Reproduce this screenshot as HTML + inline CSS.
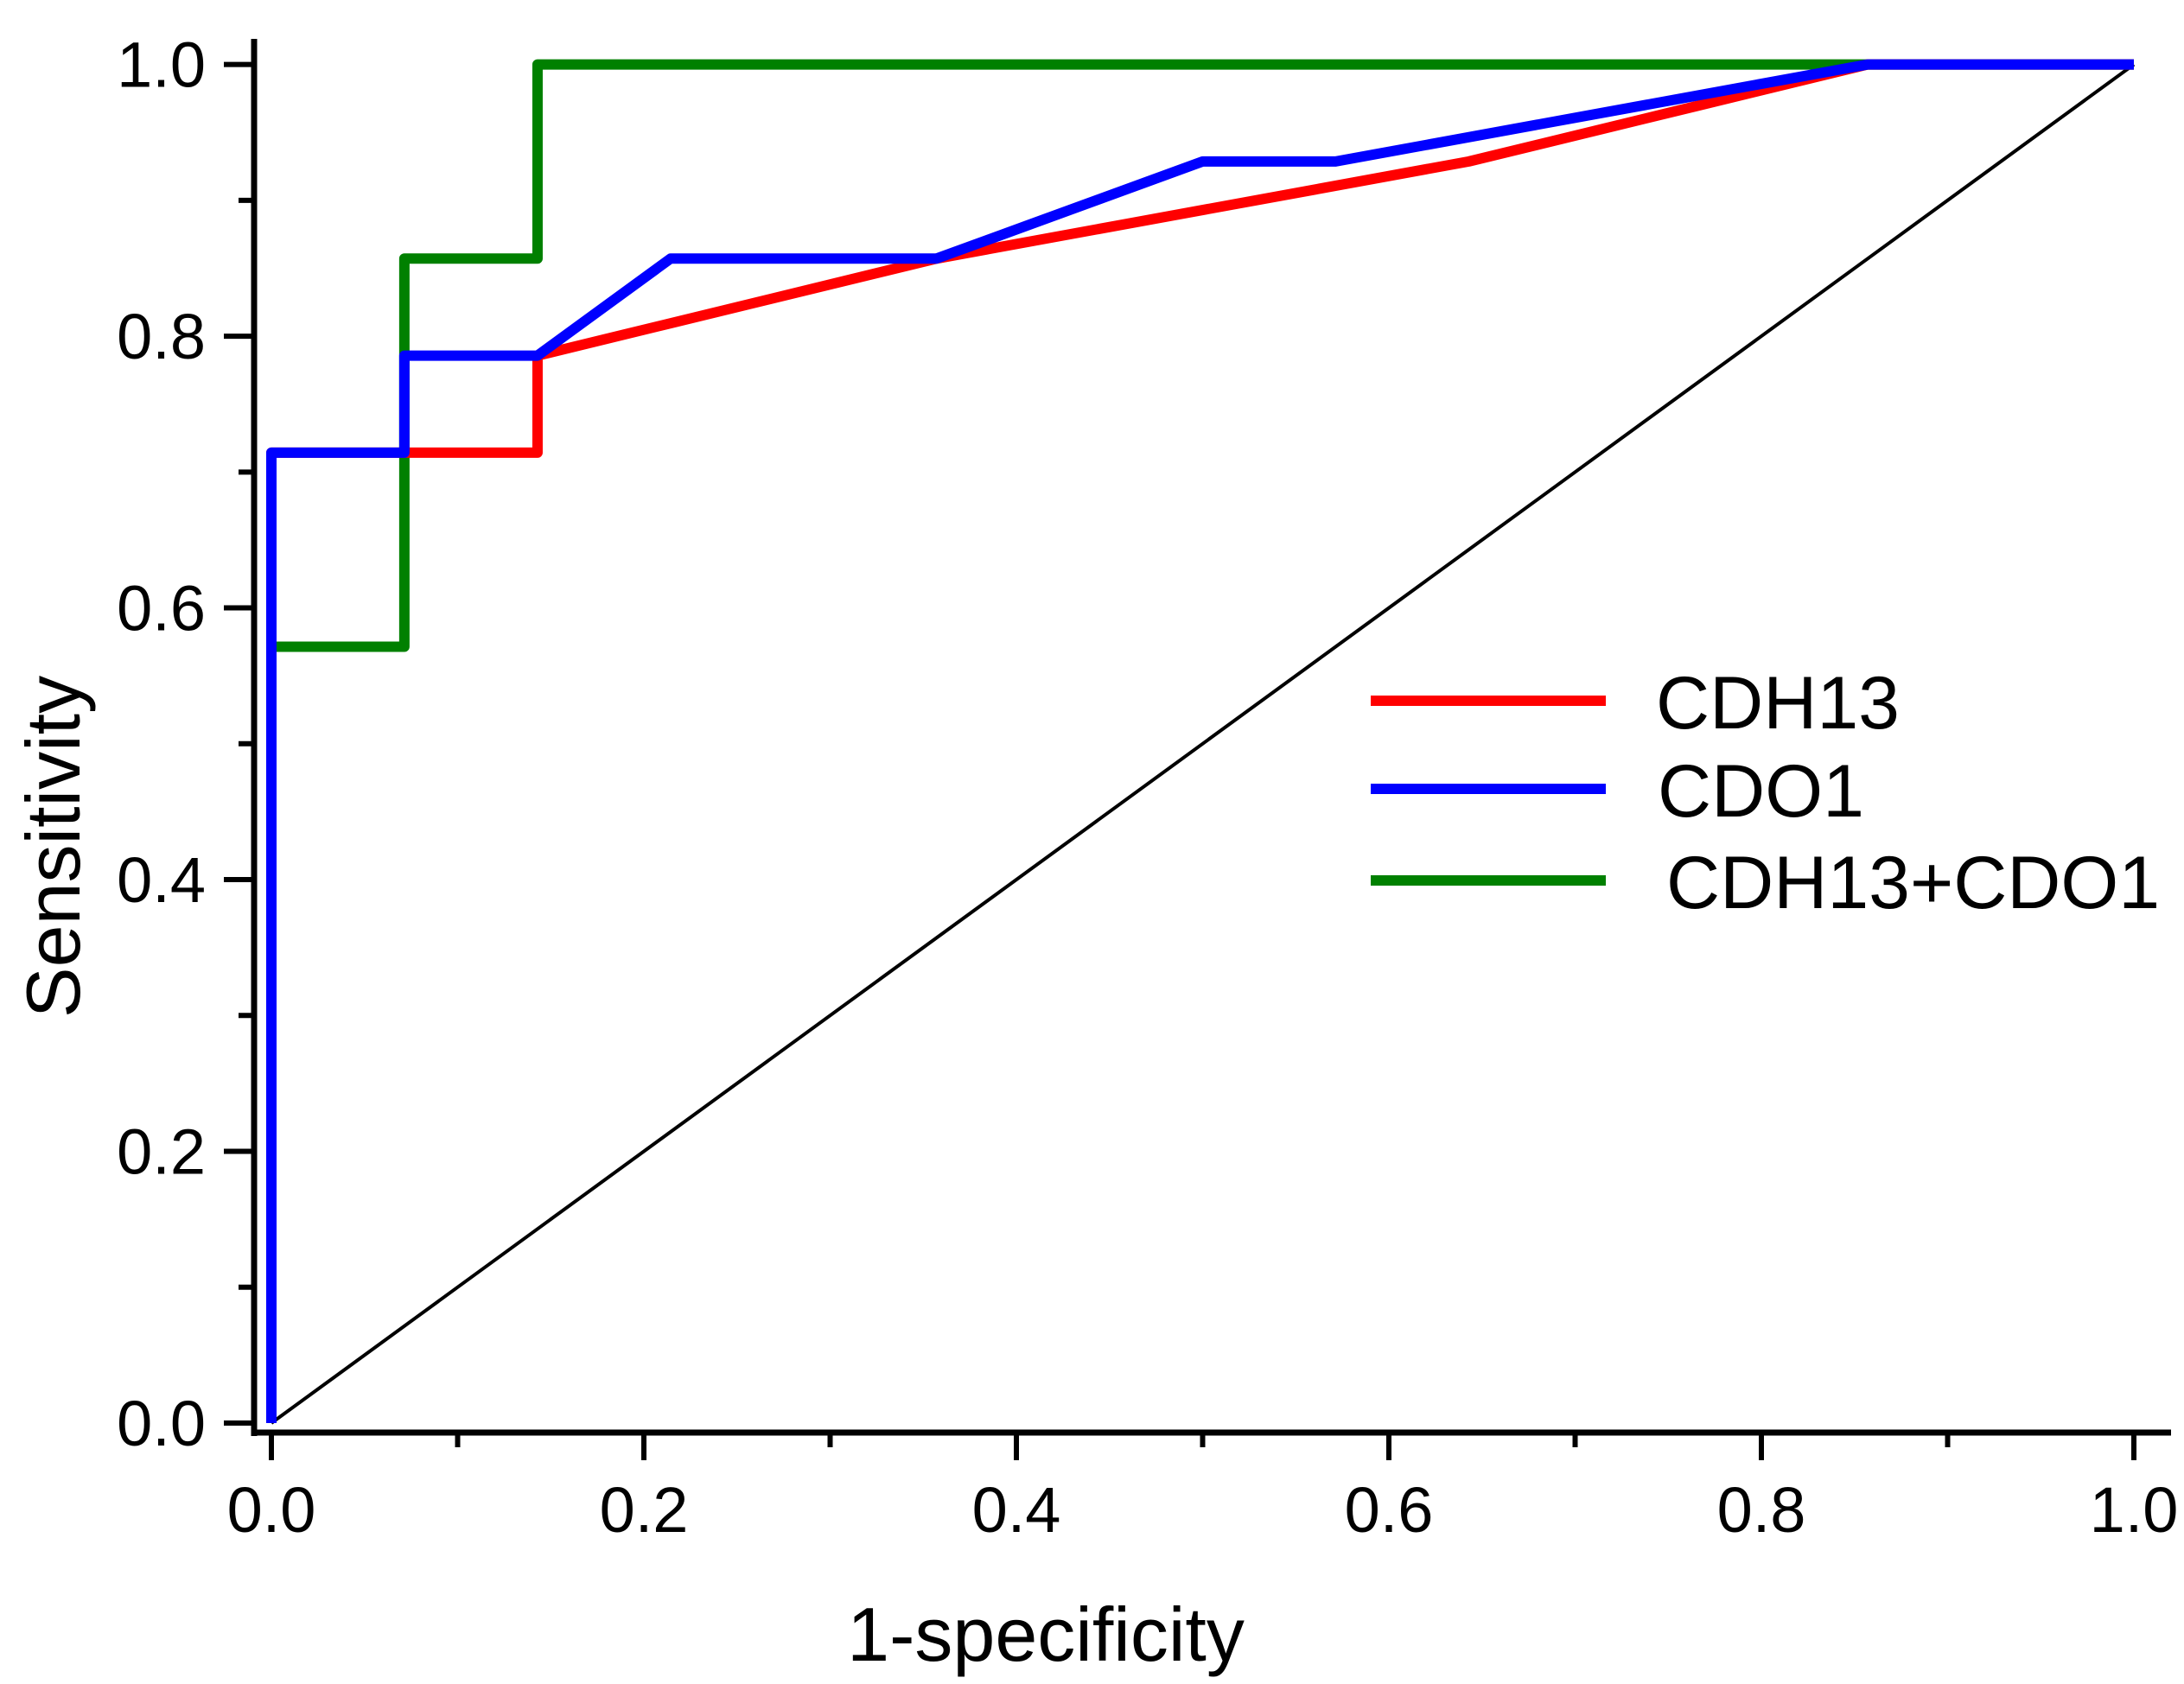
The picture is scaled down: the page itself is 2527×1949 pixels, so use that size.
<!DOCTYPE html>
<html><head><meta charset="utf-8"><style>
html,body{margin:0;padding:0;background:#fff;}
svg{display:block;font-family:"Liberation Sans",Arial,sans-serif;}
</style></head><body>
<svg id="chart" width="2527" height="1949" viewBox="0 0 2527 1949" xmlns="http://www.w3.org/2000/svg">
<g id="axes"></g>
<g id="series"></g>
<g id="legend"></g>
<text x="1210" y="1922" font-size="88" text-anchor="middle">1-specificity</text>
<text transform="translate(92,980) rotate(-90)" font-size="88" text-anchor="middle">Sensitivity</text>
</svg>
<script>
const xTicks = [0, 0.2, 0.4, 0.6, 0.8, 1.0];
const yTicks = [0, 0.2, 0.4, 0.6, 0.8, 1.0];
const xTickLabels = ["0.0","0.2","0.4","0.6","0.8","1.0"];
const yTickLabels = ["0.0","0.2","0.4","0.6","0.8","1.0"];
const seriesNames = ["CDH13","CDO1","CDH13+CDO1"];
const cdh13X = [0, 0, 0.0714, 0.1429, 0.1429, 0.3571, 0.6429, 0.8571, 1];
const cdh13Y = [0, 0.7143, 0.7143, 0.7143, 0.7857, 0.8571, 0.9286, 1, 1];
const cdo1X = [0, 0, 0.0714, 0.0714, 0.1429, 0.2143, 0.3571, 0.5, 0.5714, 0.8571, 1];
const cdo1Y = [0, 0.7143, 0.7143, 0.7857, 0.7857, 0.8571, 0.8571, 0.9286, 0.9286, 1, 1];
const comboX = [0, 0.0714, 0.0714, 0.1429, 0.1429, 1];
const comboY = [0.5714, 0.5714, 0.8571, 0.8571, 1, 1];
const refX = [0, 1];
const refY = [0, 1];

const NS = "http://www.w3.org/2000/svg";
const X0 = 314, X1 = 2469, Y0 = 1647, Y1 = 74.6;
const sx = v => X0 + (X1 - X0) * v;
const sy = v => Y0 + (Y1 - Y0) * v;
function mk(tag, attrs, parent){ const e = document.createElementNS(NS, tag); for (const k in attrs) e.setAttribute(k, attrs[k]); parent.appendChild(e); return e; }

const axes = document.getElementById('axes');
let el = mk('line', {x1:294, y1:45, x2:294, y2:1662, stroke:'#000','stroke-width':7}, axes);


el = mk('line', {x1:291, y1:1658, x2:2512, y2:1658, stroke:'#000','stroke-width':7}, axes);



xTicks.forEach((v,i) => {
  const t = mk('line', {x1:sx(v), y1:1658, x2:sx(v), y2:1690, stroke:'#000','stroke-width':6}, axes);
  
  
  if (i < xTicks.length-1) {
    const m = mk('line', {x1:sx(v+0.1), y1:1658, x2:sx(v+0.1), y2:1675, stroke:'#000','stroke-width':6}, axes);
    
    
  }
  const lb = mk('text', {x:sx(v), y:1773, 'font-size':74, 'text-anchor':'middle'}, axes);
  lb.textContent = xTickLabels[i];
  
  
});
yTicks.forEach((v,i) => {
  const t = mk('line', {x1:259, y1:sy(v), x2:294, y2:sy(v), stroke:'#000','stroke-width':6}, axes);
  
  
  if (i < yTicks.length-1) {
    const m = mk('line', {x1:276, y1:sy(v+0.1), x2:294, y2:sy(v+0.1), stroke:'#000','stroke-width':6}, axes);
    
    
  }
  const lb = mk('text', {x:238, y:sy(v)+26, 'font-size':74, 'text-anchor':'end'}, axes);
  lb.textContent = yTickLabels[i];
  
  
});

const series = document.getElementById('series');
function line(xs, ys, color, w, name){
  const p = mk('polyline', {points: xs.map((x,i)=>sx(x)+','+sy(ys[i])).join(' '), fill:'none', stroke:color, 'stroke-width':w, 'stroke-linejoin':'round'}, series);
  
  
}
line(refX, refY, '#000', 4, 'reference-diagonal');
line(comboX, comboY, '#008000', 12, 'line-cdh13-cdo1');
line(cdh13X, cdh13Y, '#ff0000', 12, 'line-cdh13');
line(cdo1X, cdo1Y, '#0000ff', 12, 'line-cdo1');

const legend = document.getElementById('legend');
const legColors = ['#ff0000','#0000ff','#008000'];
const legY = [811, 913, 1019];
const legTextX = [1916, 1918, 1928];
seriesNames.forEach((n,i) => {
  const l = mk('line', {x1:1586, y1:legY[i], x2:1858, y2:legY[i], stroke:legColors[i], 'stroke-width':12}, legend);
  
  
  const t = mk('text', {x:legTextX[i], y:legY[i]+32, 'font-size':86}, legend);
  t.textContent = n;
  
  
});
</script>
</body></html>
